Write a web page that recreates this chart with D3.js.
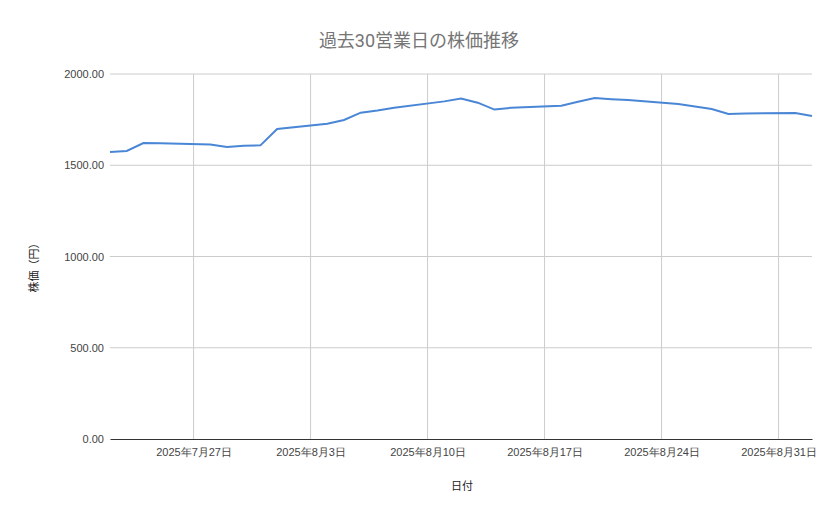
<!DOCTYPE html>
<html><head><meta charset="utf-8">
<script src="https://cdn.jsdelivr.net/npm/d3@7"></script>
<style>body{margin:0;background:#fff;font-family:Roboto,"Noto Sans CJK JP",sans-serif}</style>
</head><body>
<script>
const dates=["2025-07-22","2025-07-23","2025-07-24","2025-07-25","2025-07-28","2025-07-29","2025-07-30","2025-07-31","2025-08-01",
"2025-08-04","2025-08-05","2025-08-06","2025-08-07","2025-08-08","2025-08-11","2025-08-12","2025-08-13","2025-08-14","2025-08-15",
"2025-08-18","2025-08-19","2025-08-20","2025-08-21","2025-08-22","2025-08-25","2025-08-26","2025-08-27","2025-08-28","2025-08-29",
"2025-09-01","2025-09-02"];
const prices=[1573,1578,1622,1620,1614,1600,1607,1609,1699,1728,1748,1788,1800,1815,1850,1865,1843,1805,1815,1826,1848,1868,1862,1857,1835,1822,1808,1781,1784,1786,1770];
const yTicks=[0,500,1000,1500,2000];
const tickDates=["2025-07-27","2025-08-03","2025-08-10","2025-08-17","2025-08-24","2025-08-31"];

const W=839,H=519,m={l:110,r:27,t:74,b:80};
const parse=d3.timeParse("%Y-%m-%d");
const data=dates.map((d,i)=>({d:parse(d),v:prices[i]}));
const svg=d3.select("body").append("svg").attr("width",W).attr("height",H);
const x=d3.scaleTime().domain(d3.extent(data,d=>d.d)).range([m.l,W-m.r]);
const y=d3.scaleLinear().domain([0,2000]).range([H-m.b,m.t]);

svg.append("g").selectAll("line").data(yTicks.slice(1)).join("line")
 .attr("x1",m.l).attr("x2",W-m.r).attr("y1",d=>y(d)).attr("y2",d=>y(d)).attr("stroke","#ccc");
svg.append("g").selectAll("line").data(tickDates.map(parse)).join("line")
 .attr("x1",d=>x(d)).attr("x2",d=>x(d)).attr("y1",m.t).attr("y2",H-m.b).attr("stroke","#ccc");

const xAxis=d3.axisBottom(x).tickValues(tickDates.map(parse)).tickSize(0).tickPadding(9)
 .tickFormat(d=>`${d.getFullYear()}年${d.getMonth()+1}月${d.getDate()}日`);
svg.append("g").attr("transform",`translate(0,${H-m.b})`).call(xAxis)
 .call(g=>g.select(".domain").attr("stroke","#333"))
 .selectAll("text").attr("fill","#444").attr("font-size",11);
const yAxis=d3.axisLeft(y).tickValues(yTicks).tickSize(0).tickPadding(6).tickFormat(d3.format(".2f"));
svg.append("g").attr("transform",`translate(${m.l},0)`).call(yAxis)
 .call(g=>g.select(".domain").remove())
 .selectAll("text").attr("fill","#444").attr("font-size",11);

svg.append("path").datum(data).attr("fill","none").attr("stroke","#4a86d6").attr("stroke-width",2)
 .attr("d",d3.line().x(d=>x(d.d)).y(d=>y(d.v)));

svg.append("text").attr("x",419).attr("y",47).attr("text-anchor","middle").attr("font-size",18).attr("fill","#757575").text("過去30営業日の株価推移");
svg.append("text").attr("x",462).attr("y",490).attr("text-anchor","middle").attr("font-size",11).attr("fill","#222").text("日付");
svg.append("text").attr("transform","translate(38,265) rotate(-90)").attr("text-anchor","middle").attr("font-size",11).attr("fill","#222").text("株価（円）");
</script>
</body></html>
